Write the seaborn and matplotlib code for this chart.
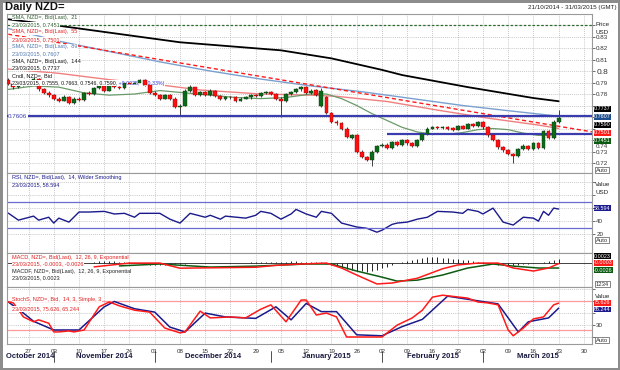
import matplotlib
matplotlib.use('Agg')
import matplotlib.pyplot as plt
import matplotlib.transforms as mtransforms
import numpy as np
import pandas as pd
import seaborn as sns

# ---------------- data ----------------
# trading days 21/10/2014 .. 23/03/2015 (index 0..109), axis runs to 31/03/2015
dates = pd.bdate_range('2014-10-21', '2015-03-23')
axis_days = pd.bdate_range('2014-10-21', '2015-03-31')

opens = [0.7920, 0.7890, 0.7860, 0.7905, 0.7885, 0.7905, 0.7930, 0.7840, 0.7810, 0.7790,
         0.7760, 0.7740, 0.7775, 0.7720, 0.7760, 0.7745, 0.7810, 0.7800, 0.7855, 0.7870,
         0.7830, 0.7880, 0.7860, 0.7850, 0.7900, 0.7890, 0.7895, 0.7920, 0.7880, 0.7810,
         0.7790, 0.7760, 0.7790, 0.7760, 0.7690, 0.7700, 0.7830, 0.7860, 0.7790, 0.7815,
         0.7795, 0.7830, 0.7780, 0.7760, 0.7775, 0.7770, 0.7740, 0.7760, 0.7770, 0.7790,
         0.7780, 0.7810, 0.7820, 0.7800, 0.7760, 0.7740, 0.7800, 0.7820, 0.7840, 0.7860,
         0.7810, 0.7835, 0.7700, 0.7775, 0.7635, 0.7560, 0.7545, 0.7500, 0.7420, 0.7440,
         0.7300, 0.7250, 0.7230, 0.7300, 0.7350, 0.7360, 0.7330, 0.7380, 0.7360, 0.7400,
         0.7370, 0.7350, 0.7400, 0.7450, 0.7500, 0.7515, 0.7505, 0.7510, 0.7505, 0.7490,
         0.7520, 0.7500, 0.7535, 0.7520, 0.7555, 0.7510, 0.7440, 0.7400, 0.7340, 0.7310,
         0.7280, 0.7260, 0.7320, 0.7350, 0.7320, 0.7370, 0.7330, 0.7480, 0.7420, 0.7555]
highs = [0.7935, 0.7905, 0.7915, 0.7915, 0.7920, 0.7945, 0.7940, 0.7855, 0.7825, 0.7800,
         0.7775, 0.7790, 0.7785, 0.7770, 0.7770, 0.7820, 0.7825, 0.7865, 0.7885, 0.7880,
         0.7890, 0.7890, 0.7870, 0.7910, 0.7910, 0.7905, 0.7930, 0.7930, 0.7890, 0.7825,
         0.7800, 0.7800, 0.7800, 0.7770, 0.7715, 0.7840, 0.7875, 0.7865, 0.7825, 0.7825,
         0.7840, 0.7835, 0.7790, 0.7785, 0.7785, 0.7780, 0.7770, 0.7780, 0.7800, 0.7800,
         0.7820, 0.7830, 0.7825, 0.7810, 0.7770, 0.7810, 0.7830, 0.7850, 0.7870, 0.7870,
         0.7840, 0.7845, 0.7850, 0.7785, 0.7645, 0.7575, 0.7555, 0.7510, 0.7455, 0.7450,
         0.7310, 0.7265, 0.7310, 0.7360, 0.7375, 0.7370, 0.7390, 0.7390, 0.7410, 0.7410,
         0.7380, 0.7410, 0.7460, 0.7510, 0.7525, 0.7525, 0.7520, 0.7520, 0.7510, 0.7530,
         0.7530, 0.7545, 0.7545, 0.7565, 0.7565, 0.7520, 0.7450, 0.7410, 0.7350, 0.7320,
         0.7290, 0.7330, 0.7365, 0.7360, 0.7380, 0.7380, 0.7490, 0.7490, 0.7570, 0.7663]
lows = [0.7880, 0.7845, 0.7855, 0.7870, 0.7875, 0.7895, 0.7830, 0.7800, 0.7775, 0.7745,
        0.7730, 0.7735, 0.7710, 0.7715, 0.7735, 0.7740, 0.7790, 0.7795, 0.7845, 0.7820,
        0.7825, 0.7850, 0.7840, 0.7845, 0.7880, 0.7880, 0.7885, 0.7870, 0.7800, 0.7780,
        0.7750, 0.7755, 0.7750, 0.7680, 0.7605, 0.7695, 0.7820, 0.7780, 0.7785, 0.7785,
        0.7785, 0.7770, 0.7750, 0.7750, 0.7760, 0.7730, 0.7735, 0.7755, 0.7760, 0.7770,
        0.7770, 0.7800, 0.7790, 0.7750, 0.7600, 0.7730, 0.7790, 0.7810, 0.7830, 0.7800,
        0.7800, 0.7780, 0.7690, 0.7625, 0.7550, 0.7530, 0.7490, 0.7420, 0.7410, 0.7290,
        0.7240, 0.7215, 0.7175, 0.7290, 0.7340, 0.7320, 0.7320, 0.7350, 0.7350, 0.7360,
        0.7340, 0.7340, 0.7390, 0.7440, 0.7495, 0.7495, 0.7495, 0.7490, 0.7480, 0.7485,
        0.7495, 0.7495, 0.7510, 0.7515, 0.7500, 0.7430, 0.7390, 0.7320, 0.7300, 0.7270,
        0.7200, 0.7250, 0.7310, 0.7310, 0.7310, 0.7320, 0.7320, 0.7410, 0.7410, 0.7546]
closes = [0.7890, 0.7860, 0.7905, 0.7885, 0.7905, 0.7930, 0.7840, 0.7810, 0.7790, 0.7760,
          0.7740, 0.7775, 0.7720, 0.7760, 0.7745, 0.7810, 0.7800, 0.7855, 0.7870, 0.7830,
          0.7880, 0.7860, 0.7850, 0.7900, 0.7890, 0.7895, 0.7920, 0.7880, 0.7810, 0.7790,
          0.7760, 0.7790, 0.7760, 0.7690, 0.7700, 0.7830, 0.7860, 0.7790, 0.7815, 0.7795,
          0.7830, 0.7780, 0.7760, 0.7775, 0.7770, 0.7740, 0.7760, 0.7770, 0.7790, 0.7780,
          0.7810, 0.7820, 0.7800, 0.7760, 0.7740, 0.7800, 0.7820, 0.7840, 0.7860, 0.7810,
          0.7830, 0.7790, 0.7830, 0.7635, 0.7560, 0.7545, 0.7500, 0.7430, 0.7440, 0.7300,
          0.7250, 0.7230, 0.7300, 0.7350, 0.7360, 0.7330, 0.7380, 0.7360, 0.7400, 0.7370,
          0.7350, 0.7400, 0.7450, 0.7500, 0.7510, 0.7505, 0.7510, 0.7500, 0.7490, 0.7520,
          0.7500, 0.7535, 0.7520, 0.7555, 0.7510, 0.7440, 0.7400, 0.7340, 0.7310, 0.7280,
          0.7260, 0.7320, 0.7350, 0.7320, 0.7370, 0.7330, 0.7480, 0.7420, 0.7560, 0.7590]

# moving averages (day index, value)
sma21_idx = [0, 5, 10, 15, 20, 25, 30, 35, 40, 45, 50, 55, 60, 63, 66, 69, 72, 75, 78, 81, 84, 87, 90, 93, 96, 99, 102, 105, 107, 109]
sma21_val = [0.784, 0.787, 0.786, 0.781, 0.779, 0.780, 0.783, 0.781, 0.779, 0.777, 0.776, 0.777, 0.780, 0.780, 0.776, 0.770,
             0.763, 0.757, 0.751, 0.747, 0.745, 0.745, 0.7465, 0.749, 0.750, 0.749, 0.746, 0.744, 0.744, 0.7451]
sma55_idx = [0, 10, 20, 30, 38, 50, 60, 65, 75, 85, 95, 105, 109]
sma55_val = [0.8017, 0.798, 0.7925, 0.788, 0.7835, 0.780, 0.779, 0.778, 0.7735, 0.766, 0.759, 0.753, 0.7501]
sma89_idx = [0, 10, 20, 30, 40, 50, 60, 70, 80, 90, 100, 109]
sma89_val = [0.837, 0.826, 0.817, 0.808, 0.800, 0.793, 0.787, 0.782, 0.776, 0.770, 0.765, 0.7607]
sma144_idx = [0, 9, 34, 54, 64, 74, 78, 91, 104, 109]
sma144_val = [0.845, 0.840, 0.825, 0.818, 0.811, 0.801, 0.7965, 0.786, 0.7765, 0.7737]

trend_idx = [0, 115.6]
trend_val = [0.832, 0.7471]
support_levels = [0.7606, 0.7451]
top_level = 0.840

# RSI 14
rsi_idx = [0, 2, 5, 6, 8, 9, 10, 12, 14, 16, 19, 21, 23, 25, 26, 30, 32, 34, 36, 39, 40, 42, 43, 47, 49, 50, 52, 54, 56, 57,
           59, 61, 62, 64, 66, 69, 71, 73, 74, 76, 77, 79, 81, 83, 85, 88, 90, 91, 93, 94, 96, 98, 100, 102, 104, 105, 106, 107, 108, 109]
rsi_val = [52.3, 41.5, 47.7, 41.5, 46, 37, 44.6, 38.5, 54, 54, 55, 51, 52, 46, 52, 52, 43, 37, 52, 46, 49, 43, 47.7, 44.6, 49,
           55, 52, 43, 51, 58, 51, 46, 55, 52, 37, 31, 29, 23, 26, 35, 37, 38.5, 43, 46, 55, 54, 52, 58, 55, 51, 60, 38.5, 34,
           46, 44.6, 40, 55, 49, 60, 58.594]

# MACD 12,26,9
macd_idx = [17, 24, 30, 34, 40, 49, 53, 58, 63, 66, 69, 73, 76, 81, 86, 89, 93, 97, 100, 104, 107, 109]
macd_val = [-0.0020, 0.0000, 0.0000, -0.0027, -0.0025, -0.0022, -0.0012, -0.0005, 0.0000, -0.0026, -0.0063, -0.0110,
            -0.0105, -0.0080, -0.0030, -0.0010, 0.0000, 0.0000, -0.0026, -0.0042, -0.0026, -0.0003]
signal_idx = [22, 30, 40, 49, 59, 64, 69, 74, 77, 81, 86, 91, 96, 100, 105, 109]
signal_val = [-0.0015, -0.0005, -0.0021, -0.0016, -0.0005, -0.0005, -0.0042, -0.0074, -0.0095, -0.0090, -0.0063, -0.0026,
              -0.0005, -0.0016, -0.0026, -0.0026]
hist_start = 17
hist_val = [0.0008, 0.0010, 0.0012, 0.0012, 0.0010, 0.0008, 0.0006, 0.0004, 0.0002,
            -0.0002, -0.0005, -0.0008, -0.0010, -0.0011, -0.0010, -0.0009, -0.0007, -0.0005,
            -0.0003, -0.0002, 0.0001, 0.0002, 0.0002, 0.0001, 0.0001, 0.0000, 0.0000, -0.0001, 0.0000, 0.0001, 0.0002, 0.0003, 0.0004,
            0.0005, 0.0006, 0.0007, 0.0007, 0.0008, 0.0008, 0.0009, 0.0009, 0.0008, 0.0007, 0.0006, 0.0005, 0.0003,
            -0.0003, -0.0010, -0.0017, -0.0024, -0.0030, -0.0036, -0.0040, -0.0043, -0.0045, -0.0042, -0.0036, -0.0028, -0.0020,
            -0.0010, -0.0002, 0.0006, 0.0012, 0.0018, 0.0023, 0.0027, 0.0030, 0.0031, 0.0031, 0.0029, 0.0027, 0.0024, 0.0021, 0.0018,
            0.0015, 0.0012, 0.0008, 0.0004, 0.0000, -0.0004, -0.0008, -0.0011, -0.0013, -0.0012,
            -0.0010, -0.0007, -0.0004, -0.0002, 0.0000, 0.0004, 0.0009, 0.0015, 0.0023]

# Slow stochastic 14,3,3
stk_idx = [0, 1, 3, 5, 6, 8, 9, 10, 12, 13, 15, 18, 20, 22, 25, 28, 31, 34, 35, 38, 40, 44, 47, 50, 52, 55, 58, 59, 61, 63,
           65, 67, 74, 77, 80, 82, 84, 86, 91, 93, 95, 97, 99, 100, 102, 104, 106, 108, 109]
stk_val = [78, 76, 47, 37, 41, 34, 16, 16, 18, 16, 20, 68, 78, 70, 61, 57, 24, 14, 16, 59, 45, 47, 45, 63, 72, 37, 82, 82, 51,
           55, 47, 5.5, 5.5, 30, 45, 61, 88, 92, 86, 78, 76, 72, 20, 8, 24, 43, 47, 72, 75.626]
std_idx = [0, 3, 5, 9, 14, 19, 21, 25, 29, 32, 35, 39, 43, 49, 53, 56, 59, 62, 65, 69, 74, 78, 82, 87, 92, 97, 101, 103, 107, 109]
std_val = [78, 55, 38, 20, 20, 68, 79, 64, 57, 26, 16, 55, 47, 44, 68, 41, 75, 58, 58, 10, 8, 27, 42, 90, 82, 74, 16, 37, 45, 65.244]

# ---------------- drawing ----------------
sns.set_style('white')
plt.rcParams['font.family'] = ['Liberation Sans', 'DejaVu Sans']

W, H = 620, 370
fig = plt.figure(figsize=(W / 100, H / 100), dpi=100)
fig.patch.set_edgecolor('#8c8c8c')
fig.patch.set_linewidth(2.5)


def box(top, bottom, left=7, right=592):
    return [left / W, 1 - bottom / H, (right - left) / W, (bottom - top) / H]


def fy(px):
    return 1 - px / H


ax_p = fig.add_axes(box(14, 173))
ax_r = fig.add_axes(box(173, 253))
ax_m = fig.add_axes(box(253, 287))
ax_s = fig.add_axes(box(287, 344))
axes = [ax_p, ax_r, ax_m, ax_s]

x_left, x_right = -0.26, 115.6
mondays = [i for i, d in enumerate(axis_days) if d.weekday() == 0]
grid_kw = dict(color='#b5b5b5', linestyle=(0, (1, 1.5)), linewidth=0.6)

for ax in axes:
    ax.set_xlim(x_left, x_right)
    ax.set_xticks(mondays)
    ax.grid(True, **grid_kw)
    ax.yaxis.tick_right()
    ax.tick_params(axis='y', labelsize=4.5, length=2, pad=1, colors='#333333', width=0.5)
    ax.tick_params(axis='x', length=0, labelbottom=False)
    for sp in ax.spines.values():
        sp.set_color('#9a9a9a')
        sp.set_linewidth(0.8)
    ax.set_xlabel('')
    ax.set_ylabel('')

# ---- price panel ----
idx = np.arange(len(dates))
o = np.array(opens); c = np.array(closes)
up = c >= o
ax_p.vlines(idx, lows, highs, color='#222222', linewidth=0.6, zorder=3)
ax_p.bar(idx[up], (c - o)[up], bottom=o[up], width=0.75, color='#0b6a1a', edgecolor='#0a3d0a', linewidth=0.3, zorder=4)
ax_p.bar(idx[~up], (o - c)[~up], bottom=c[~up], width=0.75, color='#ff1010', edgecolor='#990000', linewidth=0.3, zorder=4)

sns.lineplot(x=sma144_idx, y=sma144_val, ax=ax_p, color='black', linewidth=1.3, zorder=2)
sns.lineplot(x=sma89_idx, y=sma89_val, ax=ax_p, color='#7aa0d0', linewidth=1.0, zorder=2)
sns.lineplot(x=sma55_idx, y=sma55_val, ax=ax_p, color='#f08080', linewidth=1.0, zorder=2)
sns.lineplot(x=sma21_idx, y=sma21_val, ax=ax_p, color='#6a9a6a', linewidth=0.9, zorder=2)
sns.lineplot(x=trend_idx, y=trend_val, ax=ax_p, color='#ff1a1a', linewidth=1.0, linestyle=(0, (3, 2)), zorder=2)
ax_p.axhline(top_level, color='#2e6b2e', linewidth=0.9, linestyle=(0, (2, 1.5)), zorder=2)
ax_p.axhline(support_levels[0], color='#3b3bb0', linewidth=1.6, zorder=3)
ax_p.hlines(support_levels[1], 75, x_right, color='#3b3bb0', linewidth=1.6, zorder=3)

price_ticks = [0.72, 0.73, 0.74, 0.75, 0.76, 0.77, 0.78, 0.79, 0.80, 0.81, 0.82, 0.83, 0.84]
price_labels = ['0.72', '0.73', '', '', '', '', '0.78', '0.79', '0.8', '0.81', '0.82', '0.83', '']
ax_p.set_yticks(price_ticks)
ax_p.set_yticklabels(price_labels)
for t in ax_p.get_yticklabels():
    if t.get_text() == '0.8':
        t.set_fontsize(6)
ax_p.set_ylim(0.7113, 0.8496)
# 0.74 label sits just under the 0.7451 value box
fig.text(595.5 / W, fy(146.5), '0.74', fontsize=4.5, va='center', color='#333333')

# ---- RSI ----
sns.lineplot(x=rsi_idx, y=rsi_val, ax=ax_r, color='#1a1a8c', linewidth=1.0)
ax_r.axhline(70, color='#6b6bd0', linewidth=0.9)
ax_r.axhline(30, color='#6b6bd0', linewidth=0.9)
ax_r.set_yticks([20, 40, 60, 80, 100])
ax_r.set_yticklabels(['20', '40', '', '', ''])
ax_r.set_ylim(-9, 114)

# ---- MACD ----
hist_idx = np.arange(hist_start, hist_start + len(hist_val))
ax_m.vlines(hist_idx, 0, hist_val, color='black', linewidth=0.6)
ax_m.axhline(0, color='#222222', linewidth=0.6)
sns.lineplot(x=signal_idx, y=signal_val, ax=ax_m, color='#0d5a12', linewidth=1.1)
sns.lineplot(x=macd_idx, y=macd_val, ax=ax_m, color='#ff1a1a', linewidth=1.1)
ax_m.set_yticks([])
ax_m.set_ylim(-0.0126, 0.0053)

# ---- Stochastic ----
ax_s.axhline(80, color='#ff9a9a', linewidth=0.9)
ax_s.axhline(20, color='#ff9a9a', linewidth=0.9)
sns.lineplot(x=std_idx, y=std_val, ax=ax_s, color='#1a1a8c', linewidth=1.1)
sns.lineplot(x=stk_idx, y=stk_val, ax=ax_s, color='#ff1a1a', linewidth=1.1)
ax_s.set_yticks([5, 30, 55, 80, 105])
ax_s.set_yticklabels(['', '30', '', '', ''])
ax_s.set_ylim(-9, 109)
ax_s.tick_params(axis='x', labelbottom=True, labelsize=4.5, length=2, pad=1.5, colors='#333333')
ax_s.set_xticklabels([f'{axis_days[i].day:02d}' for i in mondays])

# ---- month labels and separators ----
month_starts = [i for i in range(1, len(axis_days)) if axis_days[i].month != axis_days[i - 1].month]
edges = [x_left] + month_starts + [x_right]
blend = mtransforms.blended_transform_factory(ax_s.transData, fig.transFigure)
for k in range(len(edges) - 1):
    mid = (edges[k] + edges[k + 1]) / 2
    d = axis_days[max(int(edges[k]), 0)]
    fig.text(mid, fy(357), d.strftime('%B %Y'), transform=blend, ha='center', va='center',
             fontsize=5.5, fontweight='bold', color='#1a1a40')
for m in month_starts:
    fig.add_artist(plt.Line2D([m, m], [fy(351), fy(362)], transform=blend, color='#333333', linewidth=0.6))

# ---- titles ----
fig.text(5 / W, fy(7), 'Daily NZD=', fontsize=8, fontweight='bold', va='center', color='#111111')
fig.text(617 / W, fy(7), '21/10/2014 - 31/03/2015 (GMT)', fontsize=4.5, ha='right', va='center', color='#222222')

# ---- in-panel legends ----
wb = dict(facecolor='white', edgecolor='none', pad=0.2)
price_legend = [
    ('SMA, NZD=, Bid(Last),  21', '#2e5e2e', 17.5),
    ('23/03/2015, 0.7451', '#2e5e2e', 25),
    ('SMA, NZD=, Bid(Last),  55', '#e02020', 32),
    ('23/03/2015, 0.7501', '#e02020', 39.5),
    ('SMA, NZD=, Bid(Last),  89', '#4f78b0', 46.5),
    ('23/03/2015, 0.7607', '#4f78b0', 53.5),
    ('SMA, NZD=, Bid(Last),  144', '#111111', 61),
    ('23/03/2015, 0.7737', '#111111', 68),
    ('Cndl, NZD=, Bid', '#111111', 75.5),
]
for s, col, y in price_legend:
    fig.text(12 / W, fy(y), s, fontsize=4, color=col, va='center', bbox=wb)
last = fig.text(12 / W, fy(83), '23/03/2015, 0.7555, 0.7663, 0.7546, 0.7590,', fontsize=3.8,
                color='#111111', va='center', bbox=wb)
ax_p.annotate(' +0.0025,  (+0.33%)', xy=(1, 0.5), xycoords=last, va='center', ha='left',
              fontsize=3.8, color='#3030d0', bbox=wb, annotation_clip=False)
fig.text(8 / W, fy(117), '0.7606', fontsize=4.5, color='#3b3bb0', va='center', bbox=wb)

fig.text(12 / W, fy(177.5), 'RSI, NZD=, Bid(Last),  14, Wilder Smoothing', fontsize=4, color='#1a1a8c', va='center')
fig.text(12 / W, fy(185), '23/03/2015, 58.594', fontsize=4, color='#1a1a8c', va='center')
fig.text(12 / W, fy(257), 'MACD, NZD=, Bid(Last),  12, 26, 9, Exponential', fontsize=4, color='#e02020', va='center', bbox=wb)
fig.text(12 / W, fy(264), '23/03/2015, -0.0003, -0.0026', fontsize=4, color='#e02020', va='center', bbox=wb)
fig.text(12 / W, fy(271), 'MACDF, NZD=, Bid(Last),  12, 26, 9, Exponential', fontsize=4, color='#222222', va='center', bbox=wb)
fig.text(12 / W, fy(278), '23/03/2015, 0.0023', fontsize=4, color='#222222', va='center', bbox=wb)
fig.text(12 / W, fy(299), 'StochS, NZD=, Bid,  14, 3, Simple, 3', fontsize=4, color='#e02020', va='center', bbox=wb)
fig.text(12 / W, fy(309), '23/03/2015, 75.626, 65.244', fontsize=4, color='#e02020', va='center', bbox=wb)

# ---- right side value boxes ----
plain = [('Price', 25), ('USD', 33), ('Value', 185), ('USD', 193), ('Value', 297)]
for s, y in plain:
    fig.text(595 / W, fy(y), s, fontsize=4.5, va='center', color='#222222')
boxes = [('0.7737', 'black', 109), ('0.7607', '#1f4e8c', 117), ('0.7590', 'black', 125),
         ('0.7501', '#ff1a1a', 133), ('0.7451', '#0b5a12', 141),
         ('58.594', '#1a1a8c', 208),
         ('0.0023', 'black', 256), ('-0.0003', '#ff1a1a', 263), ('-0.0026', '#0b5a12', 270),
         ('75.626', '#ff1a1a', 303), ('65.244', '#1a1a8c', 309.5)]
for s, col, y in boxes:
    fig.text(594 / W, fy(y), s, fontsize=3.9, va='center', color='white',
             bbox=dict(facecolor=col, edgecolor='none', pad=0.15))
for s, y in [('Auto', 170), ('Auto', 240), ('1234', 284), ('Auto', 340)]:
    fig.text(596 / W, fy(y), s, fontsize=4.2, va='center', color='#333333',
             bbox=dict(facecolor='white', edgecolor='#555555', linewidth=0.5, pad=0.5))

fig.savefig('out.png', dpi=100, facecolor='white', edgecolor=fig.get_edgecolor())
